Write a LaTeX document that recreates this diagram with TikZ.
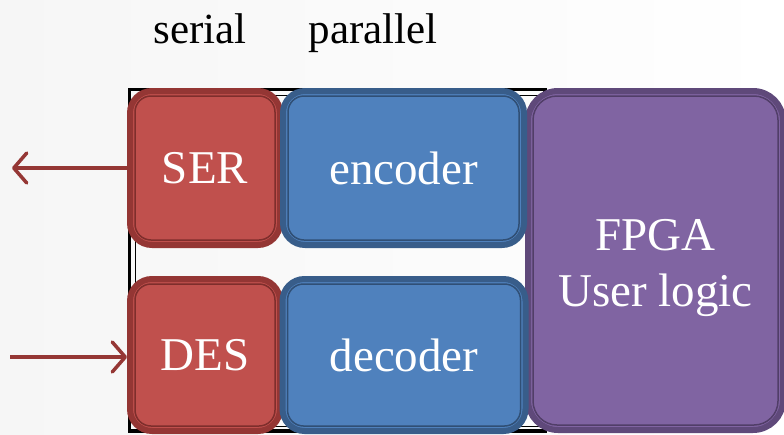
\documentclass[tikz,border=0pt]{standalone}
\usepackage{fontspec}
\setmainfont{Liberation Serif}
\usetikzlibrary{arrows.meta}
\definecolor{redfill}{HTML}{C0504D}
\definecolor{redline}{HTML}{943634}
\definecolor{bluefill}{HTML}{4F81BD}
\definecolor{blueline}{HTML}{385D8A}
\definecolor{purfill}{HTML}{8064A2}
\definecolor{purline}{HTML}{5F497A}
\definecolor{arrowred}{HTML}{953735}
\definecolor{bgleft}{HTML}{F6F6F6}
\begin{document}
\begin{tikzpicture}[x=1pt,y=-1pt,
  blk/.style={rounded corners=22pt, line width=6pt, text=white, inner sep=0pt,
    align=center, font=\fontsize{47}{56}\selectfont},
  redbox/.style={blk, fill=redfill, draw=redline},
  bluebox/.style={blk, fill=bluefill, draw=blueline},
  purbox/.style={blk, fill=purfill, draw=purline, rounded corners=30pt},
  innerline/.style={line width=1.5pt, rounded corners=16pt},
  head/.style={font=\fontsize{43}{50}\selectfont, inner sep=0pt, anchor=base},
  conn/.style={draw=arrowred, line width=3.5pt,
    -{Straight Barb[length=13pt,width=30pt,line width=3.5pt,round]}},
]
\useasboundingbox (0,0) rectangle (784,434);
\shade[left color=bgleft, right color=white] (0,0) rectangle (784,434);

% black frame behind
\draw[line width=3.5pt] (129.5,89.5) rectangle (545,431);
\draw[line width=0.9pt] (135,95) rectangle (540,426);

% headings
\node[head] (serial) at (200,43) {serial};
\node[head] (parallel) at (373,43) {parallel};

% FPGA
\node[purbox, minimum width=255pt, minimum height=339pt] (fpga) at (655.5,260.5) {\rule{0pt}{47pt}FPGA\\User logic};
\draw[innerline, draw=purline!85!black, rounded corners=24pt] ([shift={(8,8)}]fpga.north west) rectangle ([shift={(-8,-8)}]fpga.south east);

% SER / DES
\node[redbox, minimum width=150pt, minimum height=154pt] (ser) at (205,168) {SER};
\draw[innerline, draw=redline!85!black] ([shift={(8,8)}]ser.north west) rectangle ([shift={(-8,-8)}]ser.south east);
\node[redbox, minimum width=150pt, minimum height=152pt] (des) at (205,355) {DES};
\draw[innerline, draw=redline!85!black] ([shift={(8,8)}]des.north west) rectangle ([shift={(-8,-8)}]des.south east);

% encoder / decoder
\node[bluebox, minimum width=241pt, minimum height=154pt] (enc) at (403.5,168) {encoder};
\draw[innerline, draw=blueline!85!black] ([shift={(8,8)}]enc.north west) rectangle ([shift={(-8,-8)}]enc.south east);
\node[bluebox, minimum width=243pt, minimum height=152pt] (dec) at (404,355) {decoder};
\draw[innerline, draw=blueline!85!black] ([shift={(8,8)}]dec.north west) rectangle ([shift={(-8,-8)}]dec.south east);

% connectors
\coordinate (outend) at (12,168);
\coordinate (instart) at (10,357);
\draw[conn] (ser.west) -- (outend);
\draw[conn] (instart) -- (instart -| des.west);
\end{tikzpicture}
\end{document}
